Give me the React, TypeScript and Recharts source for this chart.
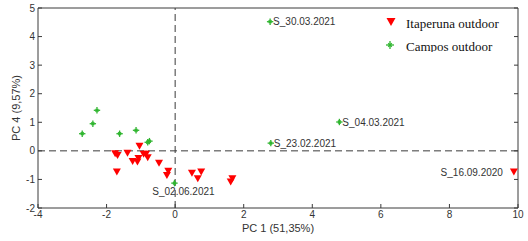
import React from 'react'
import { ScatterChart, Scatter, XAxis, YAxis, ReferenceLine, Label } from 'recharts'

// PCA scores
const itaperunaX = [-1.75, -1.68, -1.7, -1.39, -1.24, -1.1, -1.04, -1.07, -0.92, -0.85, -0.8, -0.47, -0.2, -0.24, 0.49, 0.66, 0.76, 1.62, 1.67, 9.88]
const itaperunaY = [-0.1, -0.16, -0.74, -0.08, -0.37, -0.39, 0.16, -0.27, -0.12, -0.12, -0.24, -0.43, -0.71, -0.86, -0.78, -0.98, -0.74, -1.09, -0.98, -0.74]
const itaperunaNames = ['', '', '', '', '', '', '', '', '', '', '', '', '', '', '', '', '', '', '', 'S_16.09.2020']

const camposX = [-2.28, -2.4, -2.71, -1.62, -1.14, -0.75, -0.8, -0.02, 2.77, 4.79, 2.79]
const camposY = [1.42, 0.95, 0.6, 0.6, 0.72, 0.34, 0.3, -1.13, 4.52, 1.01, 0.27]
const camposNames = ['', '', '', '', '', '', '', 'S_02.06.2021', 'S_30.03.2021', 'S_04.03.2021', 'S_23.02.2021']

const xTicks = [-4, -2, 0, 2, 4, 6, 8, 10]
const yTicks = [-2, -1, 0, 1, 2, 3, 4, 5]

const seriesNames = ['Itaperuna outdoor', 'Campos outdoor']
const xTitle = 'PC 1 (51,35%)'
const yTitle = 'PC 4 (9,57%)'

// where a point's tag sits relative to its marker
const labelSide: Record<string, 'left' | 'right' | 'below'> = {
  'S_16.09.2020': 'left',
  'S_02.06.2021': 'below',
}

const RED = '#ff0000'
const GREEN = '#2fb52f'
const AXIS = '#3a3a3a'
const SANS = '"Liberation Sans", Arial, sans-serif'
const SERIF = '"Liberation Serif", "Times New Roman", serif'

const itaperuna = itaperunaX.map((x, i) => ({ x, y: itaperunaY[i], name: itaperunaNames[i] }))
const campos = camposX.map((x, i) => ({ x, y: camposY[i], name: camposNames[i] }))

function PointTag({ cx, cy, name }: { cx: number; cy: number; name: string }) {
  if (!name) return null
  const side = labelSide[name] || 'right'
  const common = { fontSize: 10, fontFamily: SANS, fill: '#333' }
  if (side === 'left')
    return <text x={cx - 11} y={cy} textAnchor="end" dominantBaseline="central" {...common}>{name}</text>
  if (side === 'below')
    return <text x={cx + 9} y={cy + 8} textAnchor="middle" dominantBaseline="central" {...common}>{name}</text>
  return <text x={cx + 3} y={cy} textAnchor="start" dominantBaseline="central" {...common}>{name}</text>
}

function triPath(cx: number, cy: number, w: number, h: number) {
  return `M${cx - w},${cy - h} L${cx + w},${cy - h} L${cx},${cy + h} Z`
}

function starLines(cx: number, cy: number, r: number) {
  const d = r * 0.45
  return (
    <g stroke={GREEN} strokeWidth={1.3}>
      <line x1={cx - r} y1={cy} x2={cx + r} y2={cy} />
      <line x1={cx} y1={cy - r} x2={cx} y2={cy + r} />
      <line x1={cx - d} y1={cy - d} x2={cx + d} y2={cy + d} />
      <line x1={cx - d} y1={cy + d} x2={cx + d} y2={cy - d} />
    </g>
  )
}

const TriangleShape = (props: any) => {
  const { cx, cy, payload } = props
  return (
    <g>
      <path d={triPath(cx, cy, 4, 3.5)} fill={RED} />
      <PointTag cx={cx} cy={cy} name={payload.name} />
    </g>
  )
}

const StarShape = (props: any) => {
  const { cx, cy, payload } = props
  return (
    <g>
      {starLines(cx, cy, 3.2)}
      <PointTag cx={cx} cy={cy} name={payload.name} />
    </g>
  )
}

const noTick = () => <g />
const tickStyle = { fill: '#333', fontSize: 10, fontFamily: SANS }

export default function App() {
  return (
    <div style={{ position: 'absolute', left: 0, top: 0, width: 528, height: 241, background: '#fff' }}>
      <ScatterChart width={528} height={241} margin={{ top: 0, right: 0, bottom: 0, left: 0 }}>
        <XAxis
          xAxisId="b"
          type="number"
          dataKey="x"
          domain={[-4, 10]}
          ticks={xTicks}
          height={33}
          tickSize={-4}
          tickMargin={7}
          tick={tickStyle}
          stroke={AXIS}
          allowDataOverflow
        >
          <Label
            content={({ viewBox }: any) => (
              <text
                x={viewBox.x + viewBox.width / 2}
                y={228}
                textAnchor="middle"
                dominantBaseline="central"
                fontSize={11}
                fontFamily={SANS}
                fill="#333"
              >
                {xTitle}
              </text>
            )}
          />
        </XAxis>
        <XAxis
          xAxisId="t"
          orientation="top"
          type="number"
          domain={[-4, 10]}
          ticks={xTicks}
          height={8}
          tickSize={-4}
          tick={noTick}
          stroke={AXIS}
          allowDataOverflow
        />
        <YAxis
          yAxisId="l"
          type="number"
          dataKey="y"
          domain={[-2, 5]}
          ticks={yTicks}
          width={38}
          tickSize={-4}
          tickMargin={7}
          tick={tickStyle}
          stroke={AXIS}
          allowDataOverflow
        >
          <Label
            content={({ viewBox }: any) => {
              const cy = viewBox.y + viewBox.height / 2
              return (
                <text
                  x={16}
                  y={cy}
                  transform={`rotate(-90 16 ${cy})`}
                  textAnchor="middle"
                  dominantBaseline="central"
                  fontSize={11}
                  fontFamily={SANS}
                  fill="#333"
                >
                  {yTitle}
                </text>
              )
            }}
          />
        </YAxis>
        <YAxis
          yAxisId="r"
          orientation="right"
          type="number"
          domain={[-2, 5]}
          ticks={yTicks}
          width={10}
          tickSize={-4}
          tick={noTick}
          stroke={AXIS}
          allowDataOverflow
        />
        <ReferenceLine xAxisId="b" yAxisId="l" x={0} stroke={AXIS} strokeDasharray="7 4" />
        <ReferenceLine xAxisId="b" yAxisId="l" y={0} stroke={AXIS} strokeDasharray="7 4" />
        <Scatter
          xAxisId="b"
          yAxisId="l"
          name={seriesNames[0]}
          data={itaperuna}
          shape={TriangleShape}
          isAnimationActive={false}
        />
        <Scatter
          xAxisId="b"
          yAxisId="l"
          name={seriesNames[1]}
          data={campos}
          shape={StarShape}
          isAnimationActive={false}
        />
      </ScatterChart>
      <svg
        width={140}
        height={40}
        style={{ position: 'absolute', left: 384, top: 12 }}
      >
        <path d={triPath(7, 10, 4.5, 4)} fill={RED} />
        <text x={22} y={11} dominantBaseline="central" fontSize={13} fontFamily={SERIF} fill="#111">
          {seriesNames[0]}
        </text>
        {starLines(6, 33, 4)}
        <text x={22} y={34} dominantBaseline="central" fontSize={13} fontFamily={SERIF} fill="#111">
          {seriesNames[1]}
        </text>
      </svg>
    </div>
  )
}
